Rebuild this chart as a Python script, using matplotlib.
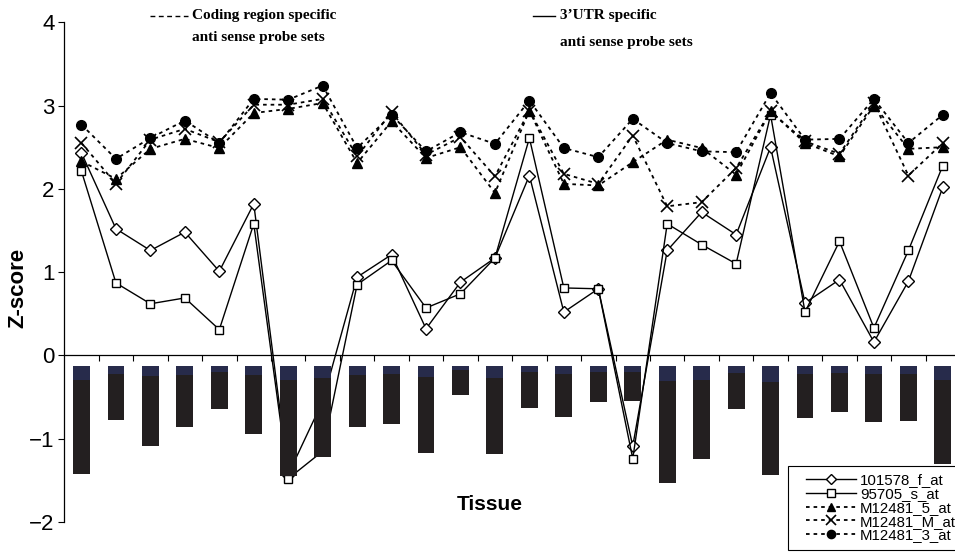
import numpy as np
import matplotlib.pyplot as plt
from matplotlib.lines import Line2D
from matplotlib.legend_handler import HandlerLine2D

plt.rcParams["font.family"] = ["Liberation Sans", "DejaVu Sans"]

# 26 tissues, no tick labels in the original
tissue = np.arange(26)

f_at = [2.43, 1.52, 1.26, 1.48, 1.01, 1.82, -1.43, -0.55, 0.94, 1.21, 0.32, 0.88, 1.17,
        2.16, 0.52, 0.80, -1.09, 1.26, 1.72, 1.45, 2.50, 0.63, 0.91, 0.16, 0.89, 2.02]
s_at = [2.21, 0.87, 0.62, 0.69, 0.31, 1.58, -1.48, -1.15, 0.85, 1.14, 0.57, 0.74, 1.17,
        2.61, 0.81, 0.80, -1.24, 1.58, 1.33, 1.10, 2.89, 0.52, 1.37, 0.33, 1.26, 2.28]
m5_at = [2.33, 2.12, 2.48, 2.60, 2.49, 2.91, 2.96, 3.03, 2.31, 2.81, 2.37, 2.50, 1.95,
         2.94, 2.06, 2.04, 2.32, 2.59, 2.49, 2.17, 2.93, 2.55, 2.39, 3.00, 2.48, 2.50]
mM_at = [2.55, 2.06, 2.59, 2.72, 2.56, 3.01, 3.01, 3.08, 2.39, 2.92, 2.41, 2.62, 2.15,
         2.94, 2.18, 2.06, 2.64, 1.79, 1.84, 2.25, 2.93, 2.57, 2.42, 3.03, 2.16, 2.55]
m3_at = [2.77, 2.36, 2.61, 2.82, 2.55, 3.08, 3.07, 3.24, 2.49, 2.89, 2.45, 2.68, 2.54,
         3.06, 2.49, 2.38, 2.84, 2.55, 2.45, 2.44, 3.15, 2.59, 2.60, 3.08, 2.55, 2.89]

# negative bars: top, end of dark-blue cap, bottom
bar_top = -0.13
bar_cap = [-0.30, -0.22, -0.245, -0.23, -0.20, -0.23, -0.30, -0.27, -0.23, -0.22, -0.26, -0.18, -0.27,
           -0.20, -0.22, -0.20, -0.20, -0.31, -0.29, -0.21, -0.32, -0.22, -0.21, -0.22, -0.22, -0.29]
bar_low = [-1.42, -0.77, -1.09, -0.86, -0.64, -0.94, -1.45, -1.22, -0.86, -0.82, -1.17, -0.475, -1.18,
           -0.63, -0.74, -0.56, -0.55, -1.53, -1.245, -0.64, -1.43, -0.75, -0.68, -0.80, -0.79, -1.30]


class InsetHandler(HandlerLine2D):
    # legend sample starts a bit right of the frame, as in the original
    def create_artists(self, legend, orig_handle, xdescent, ydescent, width, height, fontsize, trans):
        s = 0.7 * fontsize
        return super().create_artists(legend, orig_handle, xdescent - s, ydescent,
                                      width - s, height, fontsize, trans)


fig = plt.figure(figsize=(9.55, 5.59), dpi=100)
ax = fig.add_axes([0.0673, 0.0662, 0.938, 0.894])

dash = (0, (2, 2.2))
solid = dict(color="black", lw=1.0, mfc="white", mec="black", mew=1.0, zorder=2)
dotted = dict(color="black", lw=1.3, ls=dash, mfc="black", mec="black", zorder=2)

ax.plot(tissue, f_at, marker="D", ms=6, label="101578_f_at", **solid)
ax.plot(tissue, s_at, marker="s", ms=6, label="95705_s_at", **solid)
ax.plot(tissue, m5_at, marker="^", ms=7, label="M12481_5_at", **dotted)
ax.plot(tissue, mM_at, marker="x", ms=8, mew=1.2, label="M12481_M_at", **dotted)
ax.plot(tissue, m3_at, marker="o", ms=7, label="M12481_3_at", **dotted)

low = np.array(bar_low)
cap = np.array(bar_cap)
ax.bar(tissue, low - cap, bottom=cap, width=0.49, color="#231f20", zorder=3)
ax.bar(tissue, cap - bar_top, bottom=bar_top, width=0.49, color="#272b4b", zorder=3)

ax.set_xlim(-0.5, 25.5)
ax.set_ylim(-2, 4)
ax.set_yticks(range(-2, 5))
ax.set_yticklabels(["\u22122", "\u22121", "0", "1", "2", "3", "4"])
ax.set_xticks(np.arange(0.5, 25.5, 1))
ax.set_xticklabels([])
ax.tick_params(axis="y", labelsize=16, length=4, width=0.8, pad=3)
ax.tick_params(axis="x", length=4, width=0.8, direction="out")
ax.spines["top"].set_visible(False)
ax.spines["right"].set_visible(False)
ax.spines["bottom"].set_position(("data", 0))
ax.spines["bottom"].set_linewidth(0.9)
ax.spines["left"].set_linewidth(0.9)

fig.text(0.019, 0.485, "Z-score", rotation=90, fontsize=16, fontweight="bold",
         ha="center", va="center")
fig.text(0.513, 0.097, "Tissue", fontsize=15, fontweight="bold", ha="center", va="center")

serif = dict(family=["Liberation Serif", "DejaVu Serif"], fontsize=11, fontweight="bold",
             va="center", ha="left")
fig.text(192 / 955, 1 - 15 / 559, "Coding region specific", **serif)
fig.text(192 / 955, 1 - 37 / 559, "anti sense probe sets", **serif)
fig.text(560 / 955, 1 - 15.5 / 559, "3\u2019UTR specific", **serif)
fig.text(560 / 955, 1 - 42.5 / 559, "anti sense probe sets", **serif)
fig.add_artist(Line2D([150 / 955, 188 / 955], [1 - 16 / 559] * 2, color="black", lw=1.0,
                      ls=(0, (3.5, 2.5))))
fig.add_artist(Line2D([533 / 955, 555 / 955], [1 - 16 / 559] * 2, color="black", lw=1.0))

leg = ax.legend(loc="upper left", bbox_to_anchor=(788 / 955, 1 - 466 / 559),
                bbox_transform=fig.transFigure, fontsize=10.8, frameon=True,
                fancybox=False, edgecolor="black", framealpha=1, borderpad=0.5,
                labelspacing=-0.02, handlelength=4.0, handletextpad=0.3, borderaxespad=0,
                markerscale=0.85, handler_map={Line2D: InsetHandler()})
leg.get_frame().set_linewidth(0.8)
leg.set_zorder(5)

fig.savefig("out.png", dpi=100)
